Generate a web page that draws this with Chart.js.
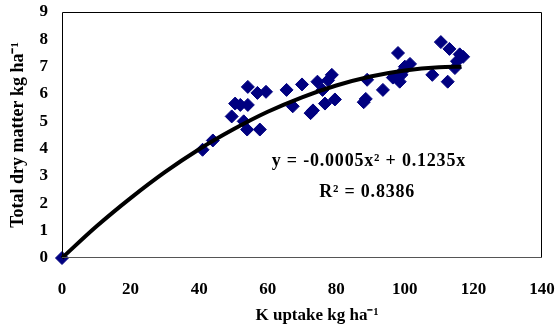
<!DOCTYPE html>
<html>
<head>
<meta charset="utf-8">
<script src="https://cdn.jsdelivr.net/npm/chart.js@4"></script>
<style>
  html, body { margin: 0; padding: 0; background: #fff; }
  #wrap { width: 560px; height: 325px; }
</style>
</head>
<body>
<div id="wrap"><canvas id="chart" width="560" height="325"></canvas></div>
<script>
// measured points: K uptake (kg/ha) vs total dry matter (kg/ha)
const kUptake = [0, 41, 44, 49.5, 50.5, 52, 53, 54.2, 54.2, 54, 57, 57.7, 59.5,
  65.5, 67.3, 70, 72.5, 73.2, 74.5, 76, 76.7, 77.6, 78.7, 79.6,
  88, 88.6, 89, 93.6, 96.5, 98, 98.5, 99, 99.5, 100, 101.5,
  108, 110.5, 112.5, 113, 114.6, 115.2, 116, 117];
const dryMatter = [0, 3.96, 4.3, 5.18, 5.65, 5.6, 5.0, 6.26, 5.6, 4.7, 6.04, 4.7, 6.08,
  6.15, 5.55, 6.35, 5.3, 5.4, 6.45, 6.15, 5.65, 6.5, 6.7, 5.8,
  5.7, 5.82, 6.52, 6.15, 6.6, 7.5, 6.45, 6.7, 6.85, 7.0, 7.1,
  6.7, 7.9, 6.45, 7.65, 6.95, 7.2, 7.45, 7.36];

// trendline
const trendX = [0, 10, 20, 30, 40, 50, 60, 70, 80, 90, 100, 110, 116.5];
const trendY = [0, 1.15, 2.19, 3.14, 3.98, 4.71, 5.35, 5.88, 6.31, 6.64, 6.86, 6.98, 7.0];

const xTicks = [0, 20, 40, 60, 80, 100, 120, 140];
const yTicks = [0, 1, 2, 3, 4, 5, 6, 7, 8, 9];

const FONT = "'Liberation Serif', 'Times New Roman', serif";

const points = kUptake.map((x, i) => ({ x: x, y: dryMatter[i] }));
const trend = trendX.map((x, i) => ({ x: x, y: trendY[i] }));

// frame round the plot, x title and the equation text
const framePlugin = {
  id: "frame",
  afterDraw(chart) {
    const { ctx, chartArea: a, scales } = chart;
    ctx.save();
    ctx.lineWidth = 1;
    ctx.strokeStyle = "#000";
    ctx.beginPath();
    ctx.moveTo(a.left + 0.5, a.bottom);
    ctx.lineTo(a.left + 0.5, a.top + 0.5);
    ctx.lineTo(a.right - 0.5, a.top + 0.5);
    ctx.lineTo(a.right - 0.5, a.bottom);
    ctx.stroke();
    ctx.strokeStyle = "#555";
    ctx.beginPath();
    ctx.moveTo(a.left, a.bottom - 0.5);
    ctx.lineTo(a.right, a.bottom - 0.5);
    ctx.stroke();

    ctx.fillStyle = "#000";
    ctx.textBaseline = "middle";
    ctx.textAlign = "center";
    ctx.font = "bold 17px " + FONT;
    ctx.fillText("K uptake kg ha\u207B\u00B9", 317, 316);

    ctx.font = "bold 18px " + FONT;
    ctx.letterSpacing = "0.8px";
    ctx.fillText("y = -0.0005x\u00B2 + 0.1235x", scales.x.getPixelForValue(89.5), scales.y.getPixelForValue(3.55));
    ctx.fillText("R\u00B2 = 0.8386", scales.x.getPixelForValue(89), scales.y.getPixelForValue(2.42));
    ctx.restore();
  },
};

new Chart(document.getElementById("chart"), {
  type: "scatter",
  data: {
    datasets: [
      {
        label: "Trend",
        data: trend,
        showLine: true,
        borderColor: "#000",
        borderWidth: 4,
        pointRadius: 0,
        cubicInterpolationMode: "monotone",
        clip: false,
      },
      {
        label: "Dry matter",
        data: points,
        pointStyle: "rectRot",
        pointRadius: 6.5,
        pointBackgroundColor: "#000080",
        pointBorderColor: "#000080",
        pointBorderWidth: 1,
        clip: false,
      },
    ],
  },
  options: {
    responsive: false,
    animation: false,
    layout: { padding: { left: 0, right: 18, top: 12, bottom: 0 } },
    plugins: {
      legend: { display: false },
      tooltip: { enabled: false },
    },
    scales: {
      x: {
        type: "linear",
        min: 0,
        max: 140,
        afterBuildTicks: (s) => { s.ticks = xTicks.map((v) => ({ value: v })); },
        afterFit: (s) => {
          s.height = 67;
          s.paddingLeft = 0;
          s.paddingRight = 0;
        },
        grid: { display: false, drawTicks: false },
        border: { display: false },
        ticks: {
          color: "#000",
          padding: 21,
          font: { family: FONT, size: 17, weight: "bold" },
        },
      },
      y: {
        type: "linear",
        min: 0,
        max: 9,
        afterBuildTicks: (s) => { s.ticks = yTicks.map((v) => ({ value: v })); },
        afterFit: (s) => {
          s.width = 62;
          s.paddingTop = 0;
          s.paddingBottom = 0;
        },
        grid: { display: false, drawTicks: false },
        border: { display: false },
        ticks: {
          color: "#000",
          padding: 14,
          font: { family: FONT, size: 17, weight: "bold" },
        },
        title: {
          display: true,
          text: "Total dry matter kg ha\u207B\u00B9",
          color: "#000",
          padding: { top: 8, bottom: 0 },
          font: { family: FONT, size: 18, weight: "bold" },
        },
      },
    },
  },
  plugins: [framePlugin],
});
</script>
</body>
</html>
